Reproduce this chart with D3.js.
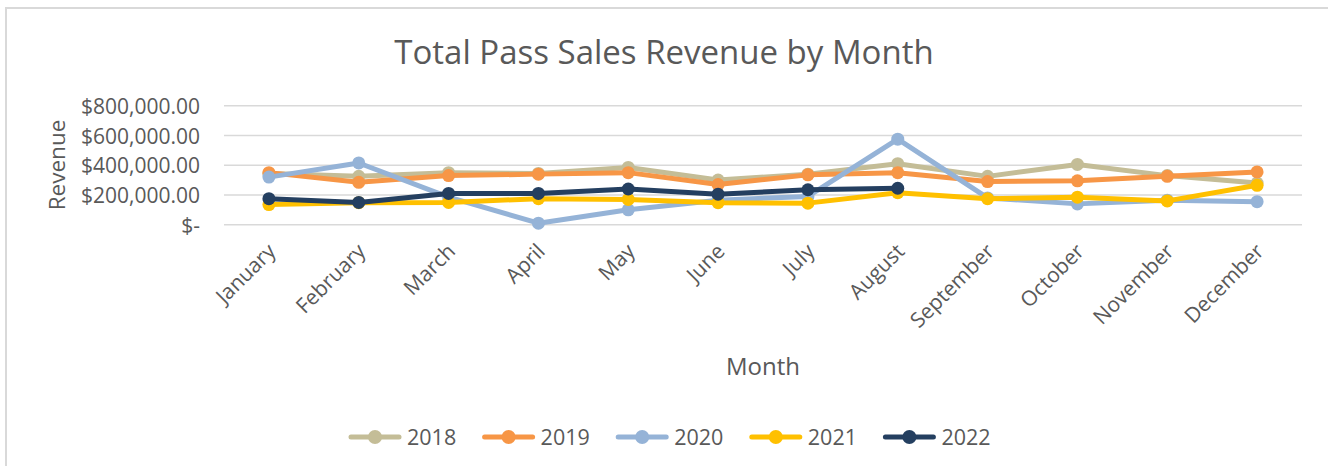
<!DOCTYPE html>
<html>
<head>
<meta charset="utf-8">
<script src="https://cdn.jsdelivr.net/npm/d3@7"></script>
<style>
  html, body { margin: 0; padding: 0; background: #fff; }
  svg { display: block; font-family: "Open Sans", "DejaVu Sans", sans-serif; }
</style>
</head>
<body>
<svg id="chart" width="1328" height="466"></svg>
<script>
// Monthly pass sales revenue (USD) by year
const months = ["January", "February", "March", "April", "May", "June",
                "July", "August", "September", "October", "November", "December"];
const years = ["2018", "2019", "2020", "2021", "2022"];
const rev2018 = [345000, 325000, 350000, 345000, 385000, 300000, 340000, 410000, 325000, 405000, 330000, 280000];
const rev2019 = [350000, 285000, 330000, 340000, 350000, 270000, 335000, 350000, 290000, 295000, 325000, 355000];
const rev2020 = [320000, 415000, 185000, 10000, 100000, 165000, 190000, 575000, 180000, 140000, 165000, 155000];
const rev2021 = [135000, 148000, 150000, 175000, 170000, 148000, 145000, 215000, 175000, 185000, 160000, 265000];
const rev2022 = [175000, 150000, 210000, 210000, 240000, 205000, 235000, 245000, null, null, null, null];
const yTicks = [0, 200000, 400000, 600000, 800000];
const colors = ["#C4BD97", "#F79646", "#95B3D7", "#FFC000", "#243F60"];

const seriesList = [rev2018, rev2019, rev2020, rev2021, rev2022].map((vals, i) => ({
  name: years[i], color: colors[i], values: vals
}));

const svg = d3.select("#chart");
const textColor = "#595959";

// chart frame (top and left edges)
svg.append("path")
  .attr("d", "M6,466 V8 H1328")
  .attr("fill", "none")
  .attr("stroke", "#d9d9d9")
  .attr("stroke-width", 2);

const plot = { left: 224, right: 1302, top: 105.7, bottom: 224.7 };

const x = d3.scalePoint().domain(months).range([plot.left, plot.right]).padding(0.5);
const y = d3.scaleLinear().domain([0, 800000]).range([plot.bottom, plot.top]);

// horizontal gridlines
svg.append("g").selectAll("line").data(yTicks).join("line")
  .attr("x1", plot.left).attr("x2", plot.right)
  .attr("y1", d => y(d)).attr("y2", d => y(d))
  .attr("stroke", "#d9d9d9").attr("stroke-width", 1.5);

// y axis labels (accounting format)
const fmt = d => d === 0 ? "$-" : "$" + d3.format(",.2f")(d);
const yAxis = d3.axisLeft(y).tickValues(yTicks).tickFormat(fmt).tickSize(0).tickPadding(0);
const yG = svg.append("g").attr("transform", "translate(200,0)").call(yAxis);
yG.select(".domain").remove();
yG.selectAll("text").attr("fill", textColor).attr("font-size", 21)
  .attr("font-family", "'Open Sans', sans-serif").attr("dy", "0.36em");

// x axis labels, rotated
const xAxis = d3.axisBottom(x).tickSize(0).tickPadding(0);
const xG = svg.append("g").attr("transform", `translate(0,${plot.bottom + 22})`).call(xAxis);
xG.select(".domain").remove();
xG.selectAll("text")
  .attr("fill", textColor).attr("font-size", 21)
  .attr("font-family", "'Open Sans', sans-serif")
  .attr("text-anchor", "end")
  .attr("dy", "0.45em").attr("dx", "0.05em")
  .attr("transform", "rotate(-45)");

// lines and markers
const line = d3.line()
  .defined(d => d != null)
  .x((d, i) => x(months[i]))
  .y(d => y(d));

const sg = svg.append("g").selectAll("g").data(seriesList).join("g");
sg.append("path")
  .attr("d", s => line(s.values))
  .attr("fill", "none")
  .attr("stroke", s => s.color)
  .attr("stroke-width", 5)
  .attr("stroke-linejoin", "round");
sg.each(function (s) {
  d3.select(this).selectAll("circle")
    .data(s.values.map((v, i) => ({ v, m: months[i] })).filter(d => d.v != null))
    .join("circle")
    .attr("cx", d => x(d.m)).attr("cy", d => y(d.v))
    .attr("r", 6.5).attr("fill", s.color);
});

// title
svg.append("text")
  .attr("x", 664).attr("y", 64)
  .attr("text-anchor", "middle")
  .attr("font-size", 33).attr("fill", textColor)
  .text("Total Pass Sales Revenue by Month");

// axis titles
svg.append("text")
  .attr("transform", "translate(65,165) rotate(-90)")
  .attr("text-anchor", "middle")
  .attr("font-size", 22.5).attr("fill", textColor)
  .text("Revenue");
svg.append("text")
  .attr("x", 763).attr("y", 375)
  .attr("text-anchor", "middle")
  .attr("font-size", 24).attr("fill", textColor)
  .text("Month");

// legend
const legend = svg.append("g").selectAll("g").data(seriesList).join("g")
  .attr("transform", (d, i) => `translate(${348 + i * 133.6},437)`);
legend.append("line")
  .attr("x1", 3).attr("x2", 51).attr("y1", 0).attr("y2", 0)
  .attr("stroke", d => d.color).attr("stroke-width", 5).attr("stroke-linecap", "round");
legend.append("circle").attr("cx", 27).attr("cy", 0).attr("r", 7).attr("fill", d => d.color);
legend.append("text")
  .attr("x", 59).attr("y", 0).attr("dy", "0.36em")
  .attr("font-size", 21.5).attr("fill", textColor)
  .text(d => d.name);
</script>
</body>
</html>
